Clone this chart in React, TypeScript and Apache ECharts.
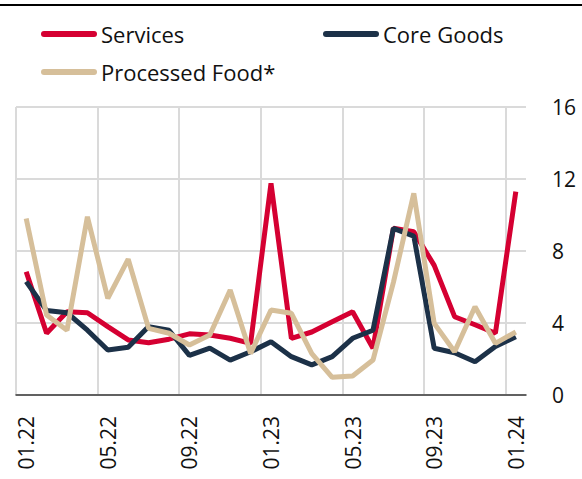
import React, { useEffect, useRef } from "react";
import * as echarts from "echarts";

const months = [
  "01.22", "02.22", "03.22", "04.22", "05.22", "06.22", "07.22", "08.22", "09.22", "10.22", "11.22", "12.22",
  "01.23", "02.23", "03.23", "04.23", "05.23", "06.23", "07.23", "08.23", "09.23", "10.23", "11.23", "12.23",
  "01.24",
];

const services = [6.85, 3.43, 4.63, 4.57, 3.8, 3.06, 2.9, 3.1, 3.4, 3.33, 3.15, 2.87, 11.76, 3.15, 3.5, 4.07, 4.63, 2.6, 9.26, 9.07, 7.2, 4.35, 3.9, 3.43, 11.3];
const coreGoods = [6.3, 4.69, 4.57, 3.6, 2.5, 2.65, 3.8, 3.6, 2.2, 2.6, 1.94, 2.4, 2.96, 2.13, 1.67, 2.13, 3.15, 3.6, 9.26, 8.83, 2.6, 2.35, 1.85, 2.69, 3.24];
const processedFood = [9.8, 4.44, 3.6, 9.9, 5.37, 7.55, 3.7, 3.43, 2.78, 3.33, 5.83, 2.31, 4.72, 4.54, 2.3, 0.98, 1.06, 1.94, 6.26, 11.2, 3.98, 2.4, 4.9, 2.87, 3.5];

const seriesNames = ["Services", "Core Goods", "Processed Food*"];
const seriesColors = ["#D50032", "#1C3148", "#D6BF9A"];

const FONT = "'Open Sans', 'Noto Sans', sans-serif";
const capsule = "path://M3,0 L53,0 A3,3 0 0 1 53,6 L3,6 A3,3 0 0 1 3,0 Z";

export default function App() {
  const ref = useRef<HTMLDivElement>(null);

  useEffect(() => {
    document.body.style.margin = "0";
    if (!ref.current) return;
    const chart = echarts.init(ref.current, null, { renderer: "svg" });
    const data = [services, coreGoods, processedFood];

    const legendBase = {
      orient: "horizontal",
      itemWidth: 56,
      itemHeight: 6,
      icon: capsule,
      itemGap: 10,
      selectedMode: false,
      textStyle: { fontSize: 22, fontFamily: FONT, color: "#111", lineHeight: 26, padding: [0, 0, 0, -1] },
    };

    chart.setOption({
      animation: false,
      graphic: [
        {
          type: "rect",
          shape: { x: 0, y: 4, width: 582, height: 2 },
          style: { fill: "#000" },
          silent: true,
        },
      ],
      legend: [
        { ...legendBase, data: [seriesNames[0]], left: 36, top: 16 },
        { ...legendBase, data: [seriesNames[1]], left: 318, top: 16 },
        { ...legendBase, data: [seriesNames[2]], left: 36, top: 54 },
      ],
      grid: { left: 16, right: 56, top: 107, bottom: 84, containLabel: false },
      xAxis: {
        type: "category",
        data: months,
        boundaryGap: true,
        axisLine: { show: true, lineStyle: { color: "#3a3a3a", width: 1.5 } },
        axisTick: { show: false },
        axisLabel: {
          interval: 3,
          rotate: 90,
          margin: 21,
          fontSize: 21,
          fontFamily: FONT,
          color: "#111",
        },
        splitLine: {
          show: true,
          interval: 3,
          showMaxLine: false,
          lineStyle: { color: "#dadada", width: 2 },
        },
      },
      yAxis: {
        type: "value",
        position: "right",
        min: 0,
        max: 16,
        interval: 4,
        axisLine: { show: false },
        axisTick: { show: false },
        axisLabel: { margin: 26, fontSize: 21, fontFamily: FONT, color: "#111" },
        splitLine: { show: true, lineStyle: { color: "#dadada", width: 2 } },
      },
      series: seriesNames.map((name, i) => ({
        name,
        type: "line",
        data: data[i],
        symbol: "none",
        color: seriesColors[i],
        lineStyle: { width: 5, color: seriesColors[i] },
        z: 3 + i,
      })),
    });

    return () => chart.dispose();
  }, []);

  return <div ref={ref} style={{ width: 582, height: 479 }} />;
}
